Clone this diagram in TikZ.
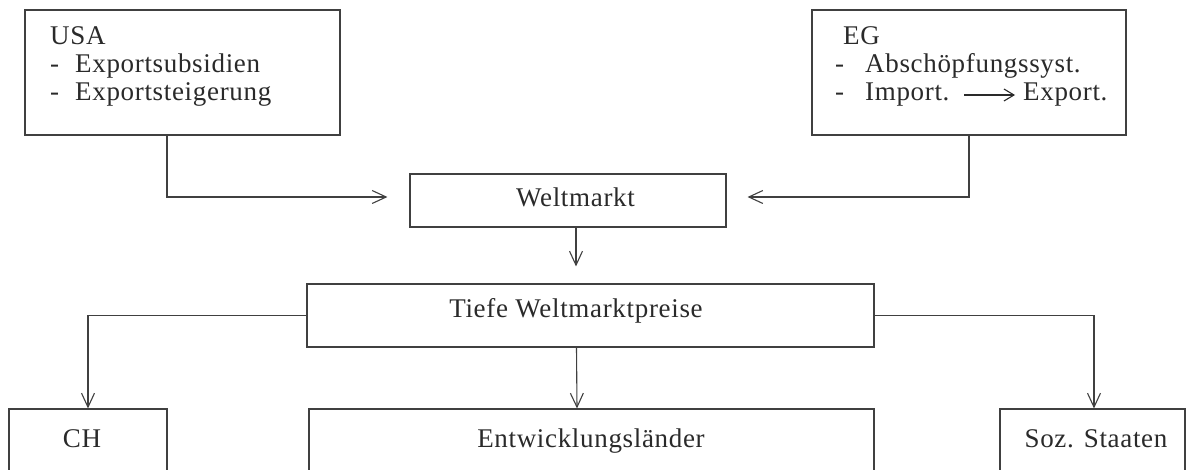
\documentclass[tikz,border=0pt]{standalone}
\usepackage{fontspec}
\setmainfont[LetterSpace=2.5]{Liberation Serif}
\usetikzlibrary{arrows.meta}
\definecolor{ink}{HTML}{404040}
\definecolor{txtc}{HTML}{2A2A2A}
\newcommand{\dashitem}[2][25pt]{\makebox[#1][l]{-}#2}
\begin{document}
\begin{tikzpicture}[x=1pt,y=-1pt,
  box/.style={draw=ink,line width=1.1pt,inner sep=0pt,rectangle},
  txt/.style={text=txtc,inner sep=0pt,font=\fontsize{27pt}{28pt}\selectfont},
  conn/.style={draw=ink,line width=1.1pt,-{Straight Barb[length=14pt,width=13pt,line width=1.1pt]}},
  inarrow/.style={draw=txtc,line width=1.1pt,-{Straight Barb[length=10pt,width=12pt,line width=1.1pt]}}]
\clip (0,0) rectangle (1187,470);
% boxes
\node[box,minimum width=315pt,minimum height=125pt] (usa) at (182.5,72.5) {};
\node[box,minimum width=314pt,minimum height=125pt] (eg) at (969,72.5) {};
\node[box,minimum width=316pt,minimum height=53pt] (wm) at (568,200.5) {};
\node[box,minimum width=567pt,minimum height=63pt] (tiefe) at (590.5,315.5) {};
\node[box,minimum width=158pt,minimum height=81pt] (ch) at (88,449.5) {};
\node[box,minimum width=565pt,minimum height=81pt] (ent) at (591.5,449.5) {};
\node[box,minimum width=185pt,minimum height=81pt] (soz) at (1092.5,449.5) {};
% texts
\node[txt,anchor=base west] (usat) at (50,45)
  {\begin{tabular}[t]{@{}l@{}}USA\\ \dashitem{Exportsubsidien}\\ \dashitem{Exportsteigerung}\end{tabular}};
\node[txt,anchor=base west] (egt) at (835,45)
  {\begin{tabular}[t]{@{}l@{}}\hspace*{8pt}EG\\ \dashitem[30pt]{Abschöpfungssyst.}\\ \dashitem[30pt]{Import.}\end{tabular}};
\node[txt,anchor=base west] (expt) at (1023,101) {Export.};
\coordinate (arrA) at (964,95);
\node[txt,anchor=base] (wmt) at (575.5,207) {Weltmarkt};
\node[txt,anchor=base] (tiefet) at (576,318) {Tiefe Weltmarktpreise};
\node[txt,anchor=base] (cht) at (82,447) {CH};
\node[txt,anchor=base] (entt) at (591,448) {Entwicklungsländer};
\node[txt,anchor=base] (sozt) at (1096,447) {Soz. Staaten};
% connectors
\draw[inarrow] (arrA) -- ([xshift=-8pt]expt.west |- arrA);
\draw[conn] ([xshift=-15.5pt]usa.south) |- ([xshift=-22pt,yshift=3.5pt]wm.west);
\draw[conn] (eg.south) |- ([xshift=21pt,yshift=3.5pt]wm.east);
\draw[conn] ([xshift=8pt]wm.south) -- ([xshift=-14.5pt,yshift=17pt]tiefe.north);
\draw[conn] (tiefe.west) -| (ch.north);
\draw[conn] ([xshift=-14pt]tiefe.south) -- ([xshift=-14.5pt]ent.north);
\draw[conn] (tiefe.east) -| ([xshift=1.5pt]soz.north);
\end{tikzpicture}
\end{document}
